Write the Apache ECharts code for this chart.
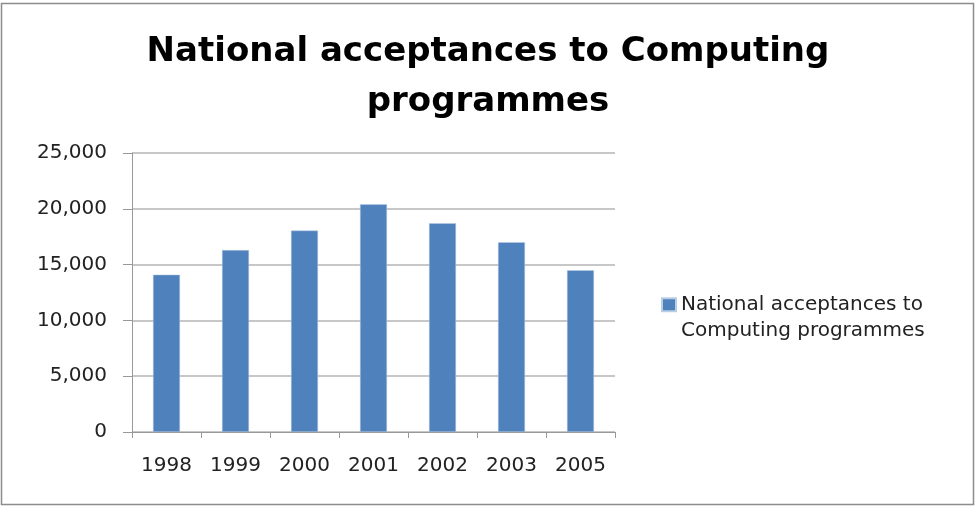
<!DOCTYPE html>
<html>
<head>
<meta charset="utf-8">
<script src="https://cdn.jsdelivr.net/npm/echarts@6/dist/echarts.min.js"></script>
<style>
  html, body { margin: 0; padding: 0; background: #fff; }
  #chart { width: 976px; height: 507px; }
</style>
</head>
<body>
<div id="chart"></div>
<script>
// Acceptances per year
const years = ['1998', '1999', '2000', '2001', '2002', '2003', '2005'];
const acceptances = [14100, 16300, 18050, 20400, 18700, 17000, 14500];
const yTicks = [0, 5000, 10000, 15000, 20000, 25000];
const seriesName = 'National acceptances to Computing programmes';

const chart = echarts.init(document.getElementById('chart'), null, { renderer: 'canvas' });

const fmt = v => v.toLocaleString('en-US');

chart.setOption({
  animation: false,
  backgroundColor: '#ffffff',
  title: {
    text: 'National acceptances to Computing\nprogrammes',
    left: 'center',
    top: 22,
    textStyle: {
      fontFamily: 'DejaVu Sans',
      fontWeight: 'bold',
      fontSize: 34,
      lineHeight: 50,
      color: '#000'
    }
  },
  graphic: [{
    type: 'rect',
    shape: { x: 1.5, y: 3.5, width: 972, height: 501 },
    style: { fill: 'none', stroke: '#8c8c8c', lineWidth: 1.5 },
    silent: true
  }],
  legend: {
    data: [seriesName],
    left: 661,
    top: 265,
    padding: 0,
    orient: 'vertical',
    icon: 'rect',
    itemWidth: 14,
    itemHeight: 13,
    // leading blank line keeps the swatch level with the first text line
    formatter: () => '\nNational acceptances to\nComputing programmes',
    textStyle: {
      fontFamily: 'DejaVu Sans',
      fontSize: 20,
      lineHeight: 26.5,
      color: '#222'
    }
  },
  grid: {
    left: 132,
    right: 361,
    top: 153,
    bottom: 75,
    containLabel: false
  },
  xAxis: {
    type: 'category',
    data: years,
    axisLine: { show: true, lineStyle: { color: '#999', width: 1 } },
    axisTick: { show: true, length: 6, lineStyle: { color: '#999' } },
    axisLabel: {
      margin: 24,
      fontFamily: 'DejaVu Sans',
      fontSize: 20,
      color: '#222'
    }
  },
  yAxis: {
    type: 'value',
    min: yTicks[0],
    max: yTicks[yTicks.length - 1],
    interval: yTicks[1] - yTicks[0],
    axisLine: { show: true, lineStyle: { color: '#999', width: 1 } },
    axisTick: { show: true, length: 9, lineStyle: { color: '#999' } },
    splitLine: { show: true, lineStyle: { color: '#b4b4b4', width: 1.5 } },
    axisLabel: {
      margin: 25,
      fontFamily: 'DejaVu Sans',
      fontSize: 20,
      color: '#222',
      formatter: v => fmt(v)
    }
  },
  series: [{
    name: seriesName,
    type: 'bar',
    data: acceptances,
    barWidth: 27,
    itemStyle: {
      color: '#4f81bd',
      borderColor: '#b9cde5',
      borderWidth: 0.5
    }
  }]
});
</script>
</body>
</html>
